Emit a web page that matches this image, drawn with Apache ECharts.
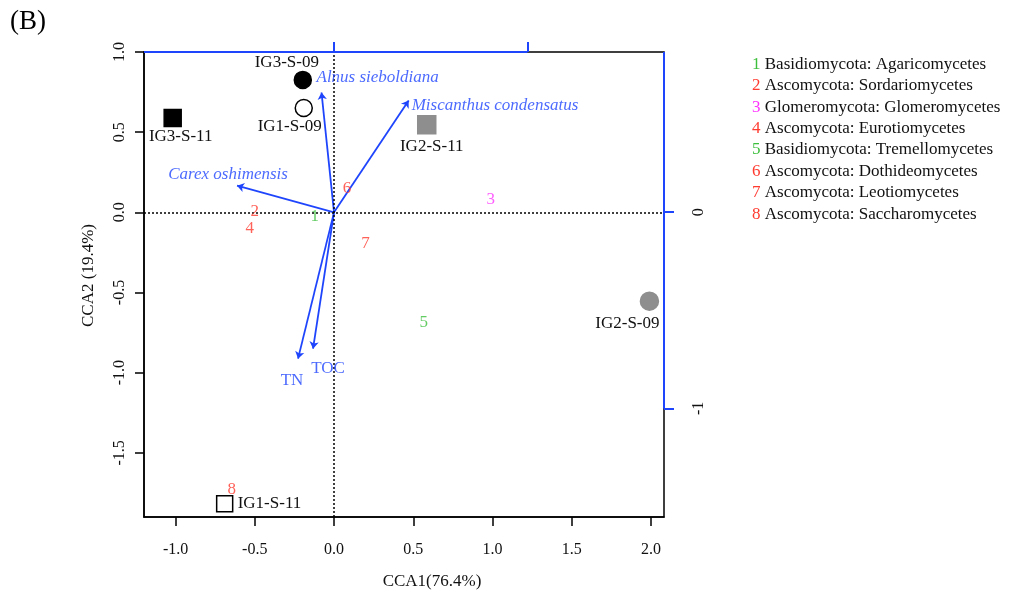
<!DOCTYPE html>
<html>
<head>
<meta charset="utf-8">
<script src="https://cdn.jsdelivr.net/npm/echarts@6/dist/echarts.min.js"></script>
<style>
  html, body { margin: 0; padding: 0; background: #fff; }
  #chart { width: 1015px; height: 596px; }
</style>
</head>
<body>
<div id="chart"></div>
<script>
// samples (site scores)
const sampleNames = ["IG3-S-09", "IG1-S-09", "IG3-S-11", "IG2-S-11", "IG2-S-09", "IG1-S-11"];
const sampleX = [-0.197, -0.191, -1.018, 0.585, 1.99, -0.69];
const sampleY = [0.826, 0.651, 0.589, 0.546, -0.554, -1.817];

// fungal classes (species scores)
const taxonIds = ["1", "2", "3", "4", "5", "6", "7", "8"];
const taxonNames = [
  "Basidiomycota: Agaricomycetes",
  "Ascomycota: Sordariomycetes",
  "Glomeromycota: Glomeromycetes",
  "Ascomycota: Eurotiomycetes",
  "Basidiomycota: Tremellomycetes",
  "Ascomycota: Dothideomycetes",
  "Ascomycota: Leotiomycetes",
  "Ascomycota: Saccharomycetes"
];
const taxonX = [-0.122, -0.50, 0.989, -0.532, 0.566, 0.082, 0.198, -0.645];
const taxonY = [-0.027, 0.004, 0.077, -0.10, -0.69, 0.15, -0.194, -1.73];

// environmental arrows
const envNames = ["Alnus sieboldiana", "Miscanthus condensatus", "Carex oshimensis", "TN", "TOC"];
const envX = [-0.079, 0.471, -0.612, -0.227, -0.1325];
const envY = [0.7475, 0.6975, 0.166, -0.9125, -0.85];

// axes
const xMin = -1.199, xMax = 2.082;
const yMin = -1.90, yMax = 1.0;
const xTicks = [-1.0, -0.5, 0.0, 0.5, 1.0, 1.5, 2.0];
const yTicks = [-1.5, -1.0, -0.5, 0.0, 0.5, 1.0];
// secondary (arrow) scale
const x2Min = -0.982, x2Max = 1.706;
const y2Min = -1.553, y2Max = 0.816;
const topTicks = [0, 1];
const rightTicks = [0, -1];

const BLUE = "#1f45fc";
const RED = "#ff3b30";
const GREEN = "#3cbf3c";
const MAGENTA = "#ff33ff";
const FONT = "Liberation Serif";
const taxonColors = [GREEN, RED, MAGENTA, RED, GREEN, RED, RED, RED];

const sampleStyles = [
  { symbol: "circle", size: 17, fill: "#000", stroke: "#000" },
  { symbol: "circle", size: 17, fill: "#fff", stroke: "#000" },
  { symbol: "rect", size: 17, fill: "#000", stroke: "#000" },
  { symbol: "rect", size: 18, fill: "#8e8e8e", stroke: "#8e8e8e" },
  { symbol: "circle", size: 18, fill: "#8e8e8e", stroke: "#8e8e8e" },
  { symbol: "rect", size: 16, fill: "#fff", stroke: "#000" }
];
const sampleLabel = [
  { offset: [-16, -17], align: "center" },
  { offset: [-14, 19], align: "center" },
  { offset: [8, 19], align: "center" },
  { offset: [5, 22], align: "center" },
  { offset: [-22, 22], align: "center" },
  { offset: [13, 0], align: "left" }
];
const envLabel = [
  { offset: [-5, -15], align: "left", italic: true },
  { offset: [3, 5], align: "left", italic: true },
  { offset: [-9, -11], align: "center", italic: true },
  { offset: [-6, 22], align: "center", italic: false },
  { offset: [15, 20], align: "center", italic: false }
];

const chart = echarts.init(document.getElementById("chart"));

const fmt1 = (v) => (Math.abs(v) < 1e-9 ? "0.0" : v.toFixed(1));

const option = {
  animation: false,
  textStyle: { fontFamily: FONT },
  grid: {
    left: 144, right: 351, top: 52, bottom: 79,
    show: true, borderColor: "#000", borderWidth: 1.5, backgroundColor: "transparent"
  },
  xAxis: [
    {
      type: "value", min: xMin, max: xMax, position: "bottom",
      name: "CCA1(76.4%)", nameLocation: "middle", nameGap: 56,
      nameTextStyle: { fontFamily: FONT, fontSize: 17, color: "#111", padding: [0, 0, 0, 56] },
      axisLine: { show: true, onZero: false, lineStyle: { color: "#000", width: 1.5 } },
      axisTick: { show: true, inside: false, length: 9, customValues: xTicks, lineStyle: { color: "#000", width: 1.5 } },
      axisLabel: { show: true, customValues: xTicks, margin: 25, formatter: fmt1, fontFamily: FONT, fontSize: 16, color: "#111" },
      splitLine: { show: false }
    },
    {
      type: "value", min: x2Min, max: x2Max, position: "top",
      axisLine: { show: false, onZero: false },
      axisTick: { show: true, length: 10, customValues: topTicks, lineStyle: { color: BLUE, width: 2 } },
      axisLabel: { show: false },
      splitLine: { show: false }
    }
  ],
  yAxis: [
    {
      type: "value", min: yMin, max: yMax, position: "left",
      name: "CCA2 (19.4%)", nameLocation: "middle", nameGap: 47, nameRotate: 90,
      nameTextStyle: { fontFamily: FONT, fontSize: 17, color: "#111", padding: [0, 0, 0, 18] },
      axisLine: { show: true, onZero: false, lineStyle: { color: "#000", width: 1.5 } },
      axisTick: { show: true, inside: false, length: 9, customValues: yTicks, lineStyle: { color: "#000", width: 1.5 } },
      axisLabel: { show: true, customValues: yTicks, rotate: 90, margin: 16, formatter: fmt1, fontFamily: FONT, fontSize: 16, color: "#111" },
      splitLine: { show: false }
    },
    {
      type: "value", min: y2Min, max: y2Max, position: "right",
      axisLine: { show: false, onZero: false },
      axisTick: { show: true, length: 10, customValues: rightTicks, lineStyle: { color: BLUE, width: 2 } },
      axisLabel: { show: true, customValues: rightTicks, rotate: 90, margin: 27, formatter: (v) => String(Math.round(v)), fontFamily: FONT, fontSize: 16, color: "#111" },
      splitLine: { show: false }
    }
  ],
  graphic: [
    {
      type: "text", x: 10, y: 22,
      style: { text: "(B)", fontFamily: FONT, fontSize: 27, fill: "#000", verticalAlign: "middle" }
    }
  ].concat(taxonNames.map((t, i) => ({
    type: "text", x: 752, y: 64.3 + i * 21.4,
    style: {
      text: "{n|" + taxonIds[i] + "} " + t,
      fontFamily: FONT, fontSize: 17, fill: "#111", verticalAlign: "middle",
      rich: { n: { fill: taxonColors[i], fontFamily: FONT, fontSize: 17 } }
    }
  }))),
  series: [
    // blue arrow-scale axis lines (top and right)
    {
      type: "line", xAxisIndex: 1, yAxisIndex: 1, clip: false, silent: true, z: 6,
      showSymbol: false, symbol: "none",
      lineStyle: { color: BLUE, width: 2 },
      data: [[x2Min, y2Max], [topTicks[topTicks.length - 1], y2Max]]
    },
    {
      type: "line", xAxisIndex: 1, yAxisIndex: 1, clip: false, silent: true, z: 6,
      showSymbol: false, symbol: "none",
      lineStyle: { color: BLUE, width: 2 },
      data: [[x2Max, y2Max], [x2Max, rightTicks[rightTicks.length - 1]]]
    },
    // environmental arrows
    {
      type: "lines", coordinateSystem: "cartesian2d", xAxisIndex: 0, yAxisIndex: 0,
      silent: true, z: 4,
      symbol: ["none", "arrow"], symbolSize: 7,
      lineStyle: { color: BLUE, width: 1.8, opacity: 1 },
      data: envNames.map((n, i) => ({ coords: [[0, 0], [envX[i], envY[i]]] }))
    },
    // arrow labels + dotted zero lines
    {
      type: "scatter", xAxisIndex: 0, yAxisIndex: 0, silent: true, z: 5,
      symbol: "circle", symbolSize: 2, itemStyle: { color: "transparent" },
      data: envNames.map((n, i) => ({
        name: n, value: [envX[i], envY[i]],
        label: {
          show: true, position: "inside", formatter: n,
          offset: envLabel[i].offset, align: envLabel[i].align, verticalAlign: "middle",
          fontStyle: envLabel[i].italic ? "italic" : "normal",
          fontFamily: FONT, fontSize: 17, color: BLUE
        }
      })),
      markLine: {
        silent: true, symbol: "none", label: { show: false },
        lineStyle: { color: "#000", type: [2, 2], width: 1.5 },
        data: [{ xAxis: 0 }, { yAxis: 0 }]
      }
    },
    // taxa numbers
    {
      type: "scatter", xAxisIndex: 0, yAxisIndex: 0, silent: true, z: 5,
      symbol: "circle", symbolSize: 2, itemStyle: { color: "transparent" },
      data: taxonIds.map((id, i) => ({
        name: taxonNames[i], value: [taxonX[i], taxonY[i]],
        label: {
          show: true, position: "inside", formatter: id,
          fontFamily: FONT, fontSize: 17, color: taxonColors[i]
        }
      }))
    },
    // samples
    {
      type: "scatter", xAxisIndex: 0, yAxisIndex: 0, silent: true, z: 7,
      data: sampleNames.map((n, i) => ({
        name: n, value: [sampleX[i], sampleY[i]],
        symbol: sampleStyles[i].symbol, symbolSize: sampleStyles[i].size,
        itemStyle: { color: sampleStyles[i].fill, borderColor: sampleStyles[i].stroke, borderWidth: 1.5, opacity: 1 },
        label: {
          show: true, position: "inside", formatter: n,
          offset: sampleLabel[i].offset, align: sampleLabel[i].align, verticalAlign: "middle",
          fontFamily: FONT, fontSize: 17, color: "#111"
        }
      }))
    }
  ]
};

chart.setOption(option);
window.addEventListener("resize", () => chart.resize());
</script>
</body>
</html>
